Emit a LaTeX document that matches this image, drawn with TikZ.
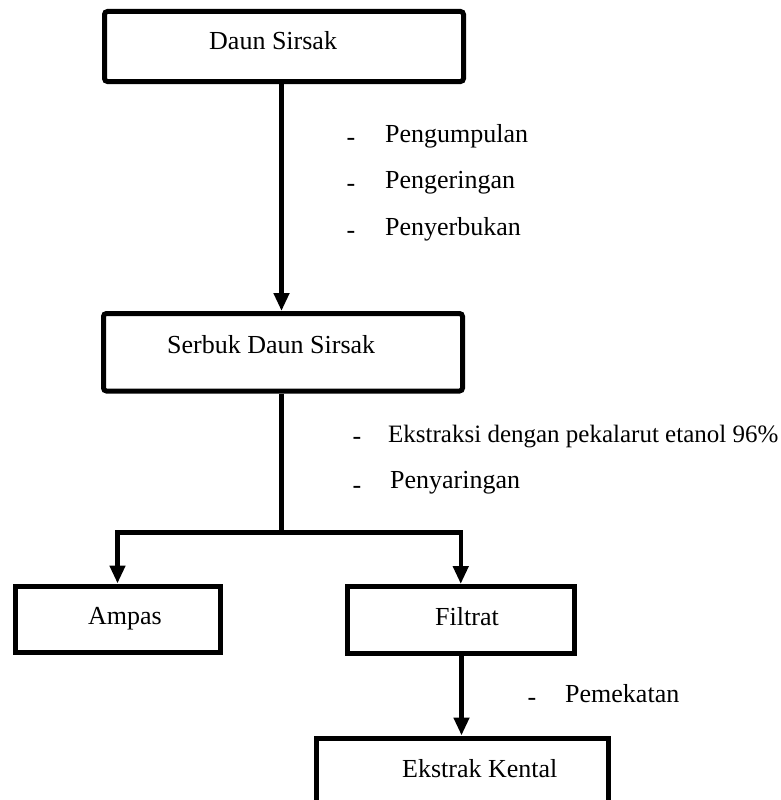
\documentclass[tikz,border=0pt]{standalone}
\usepackage{fontspec}
\setmainfont{Liberation Serif}
\usetikzlibrary{arrows.meta}
\begin{document}
\begin{tikzpicture}[x=1pt,y=-1pt,
  box/.style={draw=black, line width=5pt, inner sep=0pt},
  rbox/.style={box, rounded corners=3pt},
  txt/.style={inner sep=0pt, anchor=base west, font=\fontsize{26}{31}\selectfont},
  hy/.style={inner sep=0pt, anchor=base, font=\fontsize{26}{31}\selectfont},
  arr/.style={line width=4.5pt, -{Triangle[length=18pt,width=15pt]}},
  ln/.style={line width=4.5pt}]
\useasboundingbox (0,0) rectangle (781,800);
\fill[white] (0,0) rectangle (781,800);
\clip (0,0) rectangle (781,800);

% boxes
\node[rbox, minimum width=359pt, minimum height=70pt] (b1) at (284,46.5) {};
\node[rbox, minimum width=359pt, minimum height=77.5pt] (b2) at (283,352.25) {};
\node[box, minimum width=205pt, minimum height=66pt] (ampas) at (117.5,619) {};
\node[box, minimum width=226.5pt, minimum height=67pt] (filtrat) at (460.75,620) {};
\node[box, minimum width=291.5pt, minimum height=77pt] (kental) at (462.25,776.5) {};

% box texts
\node[txt] (t1) at (209,50) {Daun Sirsak};
\node[txt] (t2) at (167,353) {Serbuk Daun Sirsak};
\node[txt] (t3) at (88,624) {Ampas};
\node[txt] (t4) at (435,625) {Filtrat};
\node[txt] (t5) at (402,777) {Ekstrak Kental};

% step labels
\node[hy] (h1) at (351,145) {-};
\node[txt] (l1) at (385,142) {Pengumpulan};
\node[hy] (h2) at (351,191) {-};
\node[txt] (l2) at (385,188) {Pengeringan};
\node[hy] (h3) at (351,238) {-};
\node[txt] (l3) at (385,235) {Penyerbukan};
\node[hy] (h4) at (357,444) {-};
\node[txt, font=\fontsize{25}{30}\selectfont] (l4) at (388,442) {Ekstraksi dengan pekalarut etanol 96\%};
\node[hy] (h5) at (357,493) {-};
\node[txt] (l5) at (390,488) {Penyaringan};
\node[hy] (h6) at (532,705) {-};
\node[txt] (l6) at (565,702) {Pemekatan};

% connectors
\coordinate (c1) at (281.5,0);
\coordinate (j) at (281.5,532.5);
\coordinate (c3) at (461.5,0);
\draw[arr] (b1.south -| c1) -- (b2.north -| c1);
\draw[ln] (b2.south -| j) -- (j);
\draw[arr] (j) -| (ampas.north);
\draw[arr] (j) -| (filtrat.north);
\draw[arr] (filtrat.south -| c3) -- (kental.north -| c3);
\end{tikzpicture}
\end{document}
